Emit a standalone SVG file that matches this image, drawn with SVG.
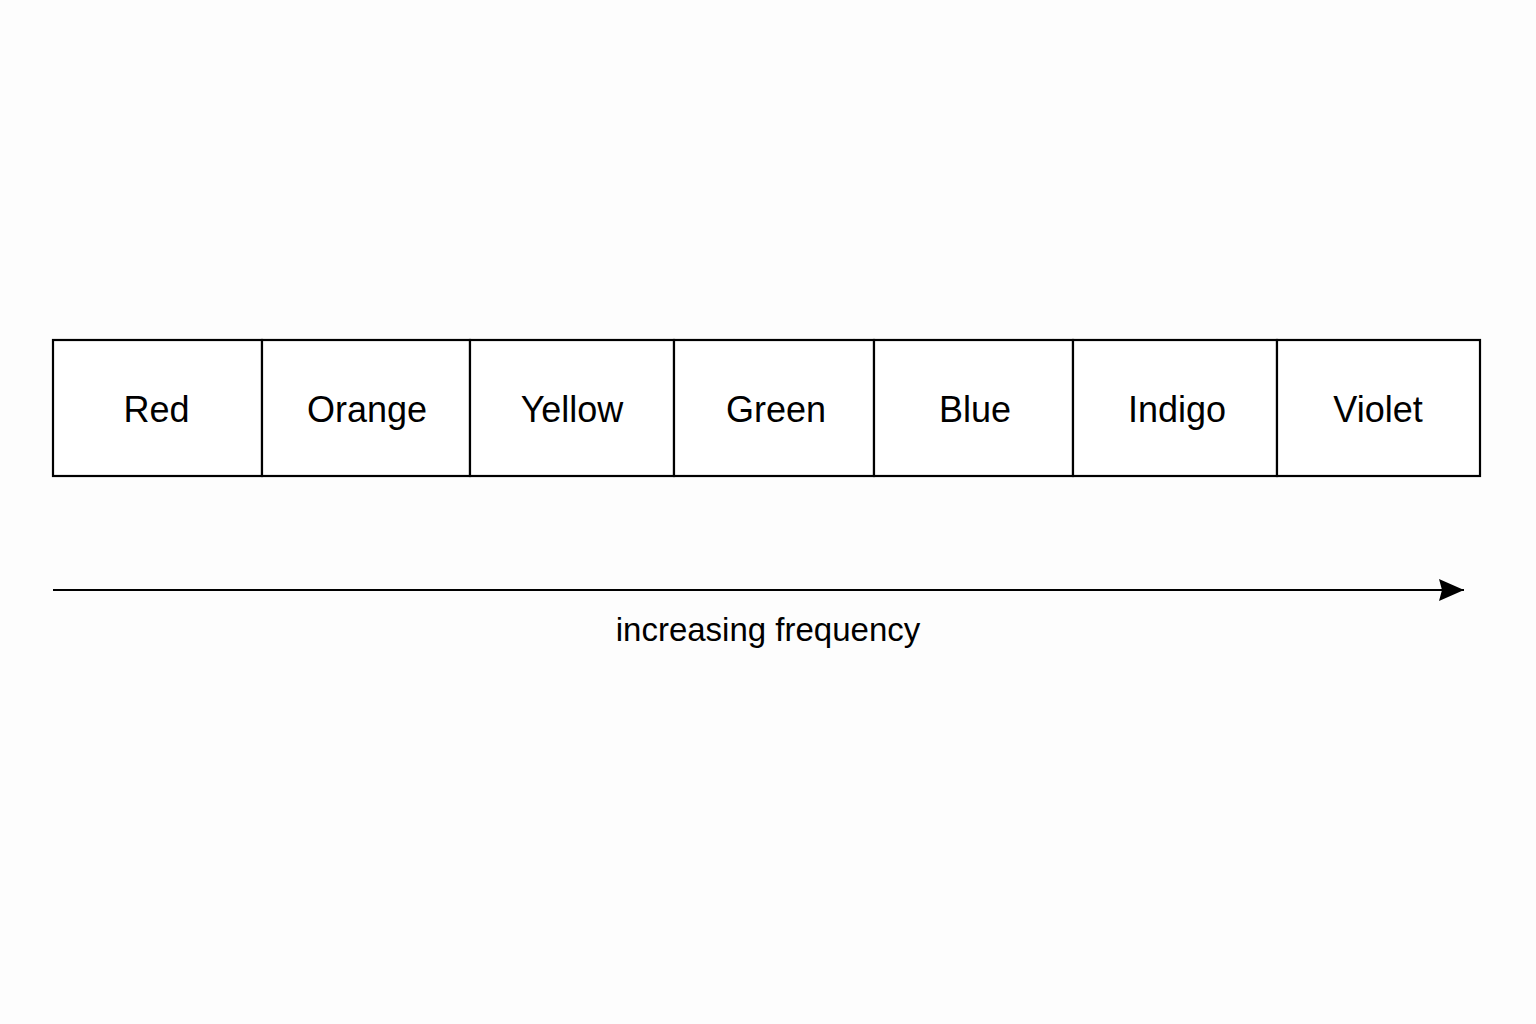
<svg xmlns="http://www.w3.org/2000/svg" width="1536" height="1024" viewBox="0 0 1536 1024">
<style>
.cell{fill:#ffffff;stroke:#000000;stroke-width:2.2}
.lbl{font-family:"Liberation Sans",Arial,sans-serif;font-size:36px;fill:#000000;text-anchor:middle}
.cap{font-family:"Liberation Sans",Arial,sans-serif;font-size:33px;fill:#000000;text-anchor:middle}
.conn{stroke:#000000;stroke-width:2.2;fill:none}
</style>
<defs>
<marker id="arrow" markerUnits="userSpaceOnUse" markerWidth="26" markerHeight="24" refX="25" refY="12" orient="auto">
<path d="M0,1 L25,12 L0,23 L3,12 Z" fill="#000000"/>
</marker>
</defs>
<rect width="1536" height="1024" fill="#fdfdfd"/>
<g id="red"><rect class="cell" x="53" y="340" width="209" height="136"/><text class="lbl" x="156.5" y="422">Red</text></g>
<g id="orange"><rect class="cell" x="262" y="340" width="208" height="136"/><text class="lbl" x="367" y="422">Orange</text></g>
<g id="yellow"><rect class="cell" x="470" y="340" width="204" height="136"/><text class="lbl" x="572" y="422">Yellow</text></g>
<g id="green"><rect class="cell" x="674" y="340" width="200" height="136"/><text class="lbl" x="776" y="422">Green</text></g>
<g id="blue"><rect class="cell" x="874" y="340" width="199" height="136"/><text class="lbl" x="975" y="422">Blue</text></g>
<g id="indigo"><rect class="cell" x="1073" y="340" width="204" height="136"/><text class="lbl" x="1177" y="422">Indigo</text></g>
<g id="violet"><rect class="cell" x="1277" y="340" width="203" height="136"/><text class="lbl" x="1378" y="422">Violet</text></g>
<g id="connectors">
<line class="conn" x1="53" y1="590" x2="1464" y2="590" marker-end="url(#arrow)"/>
</g>
<g id="axis-label"><text class="cap" x="768" y="641">increasing frequency</text></g>
</svg>
